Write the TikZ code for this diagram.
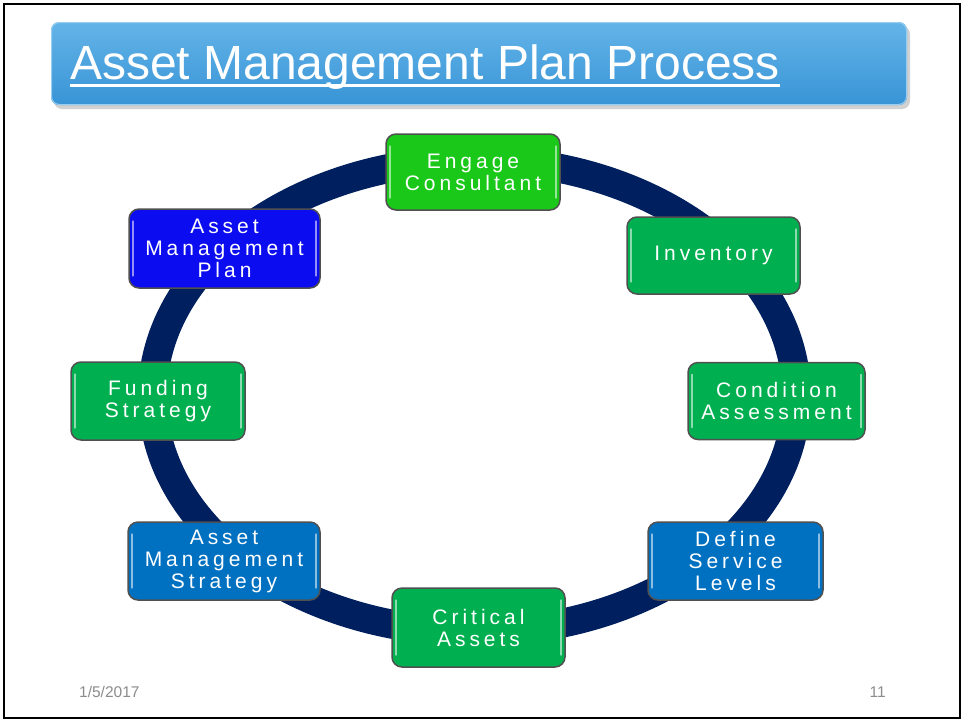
\documentclass[tikz,border=0pt]{standalone}
\usepackage{fontspec}
\setmainfont{Liberation Sans}
\newfontfamily\spacedfont[LetterSpace=19]{Liberation Sans}
\definecolor{ringnavy}{RGB}{0,31,95}
\definecolor{brightgreen}{RGB}{26,200,26}
\definecolor{officegreen}{RGB}{0,176,80}
\definecolor{officeblue}{RGB}{0,112,192}
\definecolor{planblue}{RGB}{12,12,240}
\definecolor{boxedge}{RGB}{80,80,80}
\definecolor{titletop}{RGB}{100,180,232}
\definecolor{titlebot}{RGB}{56,148,214}
\definecolor{titleedge}{RGB}{150,205,240}
\definecolor{footgray}{RGB}{140,140,140}
\tikzset{
  procbox/.style={draw=boxedge, line width=1.5pt, rounded corners=10pt,
    inner sep=0pt, align=center, text=white,
    font=\spacedfont\fontsize{21}{22}\selectfont,
    path picture={
      \draw[white, opacity=.55, line width=1.3pt, line cap=round]
        ([xshift=4pt,yshift=-12pt]path picture bounding box.north west) --
        ([xshift=4pt,yshift=12pt]path picture bounding box.south west);
      \draw[white, opacity=.55, line width=1.3pt, line cap=round]
        ([xshift=-4pt,yshift=-12pt]path picture bounding box.north east) --
        ([xshift=-4pt,yshift=12pt]path picture bounding box.south east);
    }},
  ringline/.style={draw=ringnavy, line width=29pt},
  foot/.style={inner sep=0pt, text=footgray, font=\fontsize{15.5}{18}\selectfont}
}
\begin{document}
\begin{tikzpicture}[x=1pt,y=-1pt]
\useasboundingbox (0,0) rectangle (963,721);
\fill[white] (0,0) rectangle (963,721);
\draw[black, line width=2pt] (4,4) rectangle (960,718);

% title bar
\fill[black, opacity=.18, rounded corners=8pt] (54,26) rectangle (910,109);
\shade[top color=titletop, bottom color=titlebot, rounded corners=8pt] (51,22) rectangle (907,105);
\draw[titleedge, line width=1pt, rounded corners=8pt] (51.5,22.5) rectangle (906.5,104.5);
\node[anchor=base west, inner sep=0pt, text=white, font=\fontsize{48}{56}\selectfont] (title) at (70,79) {Asset Management Plan Process};
\fill[white] ([yshift=-5pt]title.base west) rectangle ([yshift=-7.5pt]title.base east);

% ring
\draw[ringline] (474.5,396) ellipse [x radius=322, y radius=236];

% boxes
\node[procbox, fill=brightgreen, minimum width=174pt, minimum height=76pt] (engage) at (473,172) {Engage\\Consultant};
\node[procbox, fill=officegreen, minimum width=173pt, minimum height=77pt] (inv) at (713.5,255.5) {Inventory};
\node[procbox, fill=officegreen, minimum width=177pt, minimum height=77pt] (cond) at (776.5,401) {Condition\\Assessment};
\node[procbox, fill=officeblue, minimum width=175pt, minimum height=78pt] (define) at (735.5,561) {Define\\Service\\Levels};
\node[procbox, fill=officegreen, minimum width=173pt, minimum height=79pt] (crit) at (478.5,627.5) {Critical\\Assets};
\node[procbox, fill=officeblue, minimum width=192pt, minimum height=78pt] (ams) at (224,561) {Asset\\Management\\Strategy};
\node[procbox, fill=officegreen, minimum width=174pt, minimum height=78pt] (fund) at (158,401) {Funding\\Strategy};
\node[procbox, fill=planblue, minimum width=191pt, minimum height=79pt] (amp) at (224.5,248.5) {Asset\\Management\\Plan};

% footer
\node[foot, anchor=base west] (date) at (79,697) {1/5/2017};
\node[foot, anchor=base east] (pagenum) at (886,697) {11};
\end{tikzpicture}
\end{document}
